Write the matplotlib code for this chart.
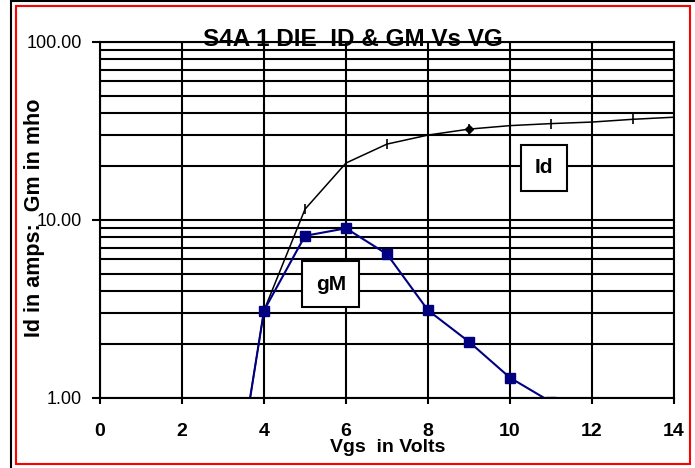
import numpy as np
import matplotlib.pyplot as plt
from matplotlib.patches import Rectangle
from matplotlib.ticker import FixedLocator, LogLocator, NullFormatter

plt.rcParams['font.family'] = ['Liberation Sans', 'DejaVu Sans']

# Dados
vg_id = np.array([3, 4, 5, 6, 7, 8, 9, 10, 11, 12, 13, 14])
id_amps = np.array([0.11, 3.1, 11.5, 20.9, 26.7, 30.0, 32.4, 33.9, 34.8, 35.5, 36.8, 37.8])

vg_gm = np.array([3, 4, 5, 6, 7, 8, 9, 10, 11])
gm_mho = np.array([0.11, 3.1, 8.15, 8.98, 6.43, 3.11, 2.07, 1.30, 0.95])

x_ticks = [0, 2, 4, 6, 8, 10, 12, 14]
y_ticks = [1, 10, 100]
y_labels = ["1.00", "10.00", "100.00"]

fig = plt.figure(figsize=(6.95, 4.68), dpi=100)
ax = fig.add_axes([100 / 695, 1 - 398 / 468, 574 / 695, 356 / 468])

ax.set_yscale("log")
ax.set_xlim(0, 14)
ax.set_ylim(1, 100)

# grade
ax.xaxis.set_major_locator(FixedLocator(x_ticks))
ax.yaxis.set_major_locator(FixedLocator(y_ticks))
ax.yaxis.set_minor_locator(LogLocator(base=10, subs=np.arange(2, 10)))
ax.yaxis.set_minor_formatter(NullFormatter())
ax.set_yticklabels(y_labels)
ax.grid(True, which="both", color="black", lw=1.5)
ax.set_axisbelow(True)
for s in ax.spines.values():
    s.set_linewidth(1.5)

ax.tick_params(axis="y", which="major", length=6, width=1.5, pad=7, labelsize=13)
ax.tick_params(axis="y", which="minor", length=0)
ax.tick_params(axis="x", length=4, width=1.5, pad=14, labelsize=14)
for lbl in ax.get_xticklabels():
    lbl.set_fontweight("bold")

# curvas
ax.plot(vg_id, id_amps, "-", color="black", lw=1.1, marker="|", ms=7, mew=1.2)
ax.plot(vg_id, id_amps, ls="none", color="black", marker="D", ms=4, markevery=[6])
ax.plot(vg_gm, gm_mho, "-", color="#000080", lw=1.5, marker="s", ms=6.5)

# rótulos das séries
box = dict(boxstyle="square,pad=0.65", facecolor="white", edgecolor="black", lw=1.5)
ax.text(10.83, 19.6, "Id", fontsize=15, fontweight="bold", ha="center", va="center", bbox=box)
ax.text(5.63, 4.36, "gM", fontsize=15, fontweight="bold", ha="center", va="center", bbox=box)

fig.text(353 / 695, 1 - 39 / 468, "S4A 1 DIE  ID & GM Vs VG", fontsize=17.5,
         fontweight="bold", ha="center", va="center")
fig.text(388 / 695, 1 - 447 / 468, "Vgs  in Volts", fontsize=14,
         fontweight="bold", ha="center", va="center")
fig.text(35 / 695, 1 - 218 / 468, "Id in amps:  Gm in mho", fontsize=15.5,
         fontweight="bold", ha="center", va="center", rotation=90)

# molduras
fig.patches.append(Rectangle((11 / 695, -0.01), 1.0, 1 - 1 / 468 + 0.01, transform=fig.transFigure,
                             fill=False, edgecolor="black", lw=1.5))
fig.patches.append(Rectangle((16 / 695, 1 - 464 / 468), 674 / 695, 458 / 468,
                             transform=fig.transFigure, fill=False, edgecolor="red", lw=1.5))

fig.savefig("out.png", dpi=100)
